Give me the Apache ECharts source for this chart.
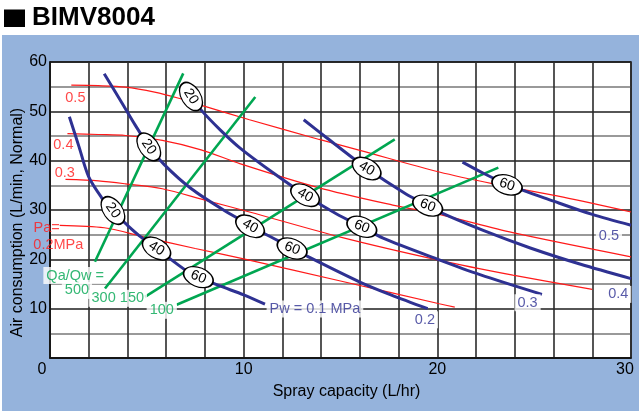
<!DOCTYPE html>
<html>
<head>
<meta charset="utf-8">
<script src="https://cdn.jsdelivr.net/npm/echarts@6/dist/echarts.min.js"></script>
<style>
  html, body { margin: 0; padding: 0; background: #fff; }
  #chart { width: 639px; height: 411px; }
</style>
</head>
<body>
<div id="chart"></div>
<script>
// ---- Air consumption vs. spray capacity, BIMV8004 nozzle ----

// Air pressure curves (Pa, MPa): [spray capacity L/hr, air consumption L/min]
const paCurve05 = [[1.1,55.3],[2.5,55.2],[3.9,54.9],[5.4,53.9],[6.6,52.7],[8,51],[10.3,48.3],[13.9,44.3],[16,42.1],[20.1,37.7],[22.9,35.3],[26.5,32.6],[30,29.6]];
const paCurve04 = [[0.9,45.5],[2.5,45.3],[3.9,45.1],[5.8,44.1],[7.8,42.2],[9.8,39.4],[13.8,34.6],[17.7,31.0],[20.1,29.1],[23.9,25.4],[30,20.5]];
const paCurve03 = [[0.8,36.2],[2.5,35.9],[3.9,35.3],[5.8,34.3],[8,32],[10.3,29.6],[15,24.5],[20.1,19.8],[23.9,16.8],[28,13.9]];
const paCurve02 = [[0.5,26.9],[2.8,26.4],[4.9,24.5],[7.5,22.2],[10,20.1],[15,15.6],[20.1,11.0],[20.9,10.3]];

// Water pressure curves (Pw, MPa)
const pwCurve01 = [[1.0,48.9],[1.5,42.8],[2.0,36.7],[2.7,32.3],[3.2,29.9],[4.0,26.9],[4.7,24.5],[5.5,22.2],[7.0,17.8],[7.7,16.4],[8.7,14.7],[10.0,12.8],[11.1,10.9]];
const pwCurve02 = [[2.8,57.6],[3.7,51.8],[4.4,47.2],[5.1,43.0],[5.9,39.2],[7.3,34.3],[9.0,29.9],[10.3,27.0],[11.0,25.4],[12.5,22.3],[13.3,20.6],[16.0,15.4],[17.6,12.8],[19.5,10.0]];
const pwCurve03 = [[7.2,53.6],[7.8,50.3],[8.8,46.2],[9.8,42.6],[11.5,37.6],[13.2,33.0],[14.8,29.2],[16.1,26.6],[17.2,24.3],[20.1,19.9],[22.2,16.9],[25.4,12.9]];
const pwCurve04 = [[13.1,48.3],[14.3,44.6],[16.3,38.6],[18.4,33.2],[19.5,31.0],[20.1,29.6],[22.4,25.8],[24.8,22.3],[27.4,19.0],[30,16.1]];
const pwCurve05 = [[21.3,39.7],[22.4,37.4],[23.6,35.2],[26.0,31.8],[28.0,29.1],[30,26.9]];

// Air/water ratio lines (Qa/Qw)
const ratio500 = [[2.32,19.5],[6.88,57.7]];
const ratio300 = [[2.84,14.1],[10.6,52.9]];
const ratio150 = [[4.9,12.4],[17.8,44.3]];
const ratio100 = [[6.54,10.8],[23.15,38.6]];

// Droplet size tags along the Pw curves
const sizeTagText = ['20','40','60', '20','40','60', '20','40','60', '40','60', '60'];
const sizeTagX    = [3.25, 5.5, 7.66,  5.1, 10.33, 12.5,  7.28, 13.17, 16.1,  16.35, 19.5,  23.6];
const sizeTagY    = [29.9, 22.2, 16.4, 42.8, 26.7, 22.2,  53.0, 33.0, 26.6,  38.4, 30.9,  35.1];

// Curve captions
const paTagText = ['0.5','0.4','0.3','Pa=','0.2MPa'];
const paTagX    = [1.31, 0.69, 0.76, -0.17, 0.43];
const paTagY    = [52.8, 43.1, 37.6, 26.4, 22.95];

const ratioTagText = ['Qa/Qw =','500','300','150','100'];
const ratioTagX    = [1.30, 1.39, 2.77, 4.23, 5.77];
const ratioTagY    = [16.7, 13.7, 12.1, 12.1, 9.67];

const pwTagText = ['Pw = 0.1 MPa','0.2','0.3','0.4','0.5'];
const pwTagX    = [13.68, 19.36, 24.66, 29.34, 28.86];
const pwTagY    = [9.93, 7.74, 11.2, 12.9, 24.8];

// Axis ranges
const xMin = 0, xMax = 30, xStep = 2, xLabelEvery = 10;
const yMin = 0, yMax = 60, yStep = 5, yLabelEvery = 10;

// ---- styling ----
const FONT = '"Liberation Sans", Arial, sans-serif';
const RED = '#ff1a1a';
const BLUE = '#2e3192';
const GREEN = '#00a651';
const PANEL = '#95b3dc';
const sizeTagTilt = [55,32,22, 55,30,22, 58,30,22, 30,22, 18];
const ELLIPSE = 'path://M0,10A15,10,0,1,1,30,10A15,10,0,1,1,0,10Z';

function curve(data, color, width, z) {
  return {
    type: 'line', data, symbol: 'none', smooth: 0.3,
    lineStyle: { color, width }, z, silent: true, animation: false
  };
}

function captions(texts, xs, ys, color, bg, z) {
  return {
    type: 'scatter', clip: false, z, silent: true,
    symbol: 'circle', symbolSize: 1, itemStyle: { color: 'rgba(0,0,0,0)' },
    data: texts.map((t, i) => ({ name: t, value: [xs[i], ys[i]] })),
    label: {
      show: true, position: 'inside', formatter: p => p.name,
      color, fontFamily: FONT, fontSize: 14.5,
      backgroundColor: bg, padding: [1, 3]
    }
  };
}

const sizeTags = {
  type: 'scatter', z: 8, silent: true,
  symbol: ELLIPSE, symbolSize: [31, 19],
  itemStyle: { color: '#fff', opacity: 1, borderColor: '#000', borderWidth: 1.4 },
  data: sizeTagText.map((t, i) => ({
    name: t, value: [sizeTagX[i], sizeTagY[i]],
    symbolRotate: -sizeTagTilt[i],
    label: { rotate: -sizeTagTilt[i] }
  })),
  label: {
    show: true, position: 'inside', formatter: p => p.name,
    color: '#000', fontFamily: FONT, fontSize: 14
  }
};

const chart = echarts.init(document.getElementById('chart'), null, { renderer: 'canvas' });

chart.setOption({
  animation: false,
  backgroundColor: '#fff',
  graphic: [
    { type: 'rect', z: -10, silent: true, shape: { x: 2, y: 35, width: 637, height: 376 }, style: { fill: PANEL } },
    { type: 'rect', silent: true, shape: { x: 4, y: 9.5, width: 21, height: 17.5 }, style: { fill: '#000' } },
    { type: 'text', x: 32, y: 17.5, silent: true,
      style: { text: 'BIMV8004', font: 'bold 26px ' + FONT, fill: '#000',
               align: 'left', verticalAlign: 'middle', textAlign: 'left', textVerticalAlign: 'middle' } },
    { type: 'text', x: 17.5, y: 222.5, rotation: Math.PI / 2, silent: true,
      style: { text: 'Air consumption (L/min, Normal)', font: '16px ' + FONT, fill: '#000',
               align: 'center', verticalAlign: 'middle', textAlign: 'center', textVerticalAlign: 'middle' } },
    { type: 'text', x: 346.5, y: 392, silent: true,
      style: { text: 'Spray capacity (L/hr)', font: '16px ' + FONT, fill: '#000',
               align: 'center', verticalAlign: 'middle', textAlign: 'center', textVerticalAlign: 'middle' } }
  ],
  grid: {
    left: 50, right: 8, top: 62, bottom: 53,
    show: true, backgroundColor: '#fff', borderColor: '#111', borderWidth: 1.5
  },
  xAxis: {
    type: 'value', min: xMin, max: xMax, interval: xStep,
    axisLine: { show: true, onZero: false, lineStyle: { color: '#111', width: 1.5 } },
    axisTick: { show: false },
    splitLine: { show: true, lineStyle: { color: '#2b2b2b', width: 1.6 } },
    axisLabel: {
      margin: 4, color: '#000', fontFamily: FONT, fontSize: 16,
      formatter: v => {
        if (v % xLabelEvery !== 0) return '';
        if (v === xMin) return '{lo|' + v + '}';
        if (v === xMax) return '{hi|' + v + '}';
        return String(v);
      },
      rich: {
        lo: { fontFamily: FONT, fontSize: 16, color: '#000', padding: [0, 16, 0, 0] },
        hi: { fontFamily: FONT, fontSize: 16, color: '#000', padding: [0, 12, 0, 0] }
      }
    }
  },
  yAxis: {
    type: 'value', min: yMin, max: yMax, interval: yStep,
    axisLine: { show: true, onZero: false, lineStyle: { color: '#111', width: 1.5 } },
    axisTick: { show: false },
    splitLine: { show: true, lineStyle: { color: ['#1e1e1e', '#777'], width: 1.6 } },
    axisLabel: {
      margin: 3, color: '#000', fontFamily: FONT, fontSize: 16,
      formatter: v => (v % yLabelEvery === 0 && v !== yMin) ? String(v) : ''
    }
  },
  series: [
    curve(paCurve05, RED, 1.2, 2),
    curve(paCurve04, RED, 1.2, 2),
    curve(paCurve03, RED, 1.2, 2),
    curve(paCurve02, RED, 1.2, 2),
    curve(ratio500, GREEN, 2.6, 3),
    curve(ratio300, GREEN, 2.6, 3),
    curve(ratio150, GREEN, 2.6, 3),
    curve(ratio100, GREEN, 2.6, 3),
    curve(pwCurve01, BLUE, 3, 4),
    curve(pwCurve02, BLUE, 3, 4),
    curve(pwCurve03, BLUE, 3, 4),
    curve(pwCurve04, BLUE, 3, 4),
    curve(pwCurve05, BLUE, 3, 4),
    sizeTags,
    captions(paTagText, paTagX, paTagY, RED, null, 9),
    captions(ratioTagText, ratioTagX, ratioTagY, GREEN, '#fff', 9),
    captions(pwTagText, pwTagX, pwTagY, BLUE, '#fff', 9)
  ]
});
</script>
</body>
</html>
